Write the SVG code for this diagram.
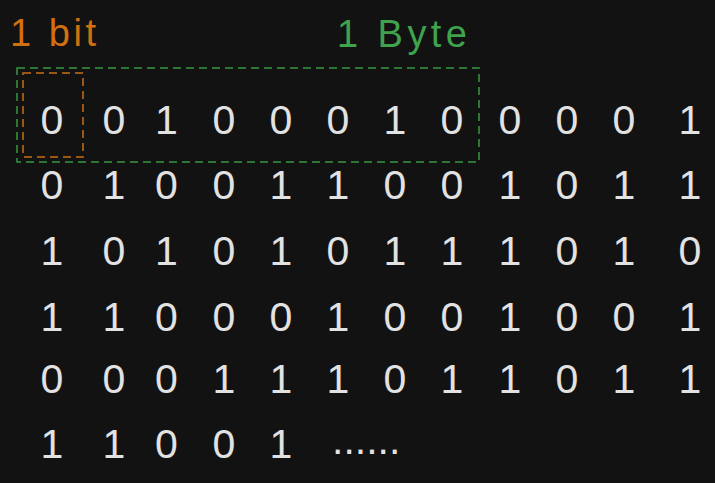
<svg xmlns="http://www.w3.org/2000/svg" width="715" height="483" viewBox="0 0 715 483">
<style>
.bits{font-family:"Liberation Sans",Arial,sans-serif;font-size:41px;fill:#e2e2e2;text-anchor:middle}
.lbl{font-family:"Liberation Sans",Arial,sans-serif;font-size:38px}
.box{fill:none;stroke-width:2;stroke-dasharray:8 5;stroke-linejoin:round}
</style>
<rect x="0" y="0" width="715" height="483" fill="#121212"/>
<g id="label-bit"><text class="lbl" x="10" y="46" fill="#d2700f" textLength="86" lengthAdjust="spacing">1 bit</text></g>
<g id="label-byte"><text class="lbl" x="337" y="47" fill="#3fa34d" textLength="130" lengthAdjust="spacing">1 Byte</text></g>
<g id="byte-box"><rect class="box" x="17" y="68" width="462" height="94" stroke="#2e7536"/></g>
<g id="bit-box"><rect class="box" x="23" y="73" width="60" height="84" stroke="#9a5812"/></g>
<g id="bits" class="bits">
<text x="52 114 166.5 224 281 338 395 452 510 567 624 690" y="134">001000100001</text>
<text x="52 114 166.5 224 281 338 395 452 510 567 624 690" y="199">010011001011</text>
<text x="52 114 166.5 224 281 338 395 452 510 567 624 690" y="265">101010111010</text>
<text x="52 114 166.5 224 281 338 395 452 510 567 624 690" y="331">110001001001</text>
<text x="52 114 166.5 224 281 338 395 452 510 567 624 690" y="393">000111011011</text>
<text x="52 114 166.5 224 281" y="458">11001</text>
<text x="332" y="454" style="text-anchor:start">......</text>
</g>
</svg>
